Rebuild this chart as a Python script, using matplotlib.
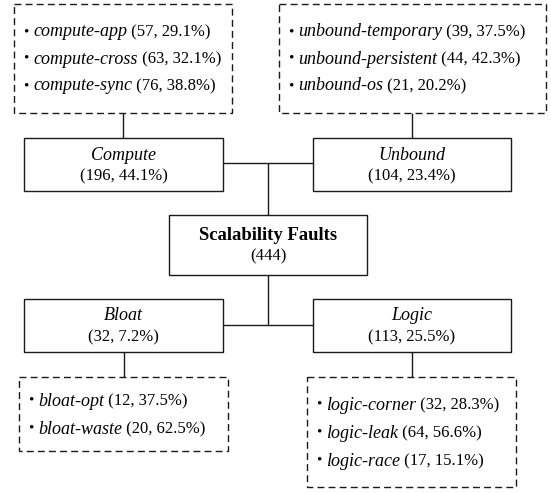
import matplotlib
matplotlib.use("Agg")
import matplotlib.pyplot as plt
from matplotlib.patches import Rectangle

# ---- data ----
root_label = "Scalability Faults"
root_total = 444
categories = ["Compute", "Unbound", "Bloat", "Logic"]
category_counts = [196, 104, 32, 113]
category_pcts = [44.1, 23.4, 7.2, 25.5]
sub_names = [
    ["compute-app", "compute-cross", "compute-sync"],
    ["unbound-temporary", "unbound-persistent", "unbound-os"],
    ["bloat-opt", "bloat-waste"],
    ["logic-corner", "logic-leak", "logic-race"],
]
sub_counts = [[57, 63, 76], [39, 44, 21], [12, 20], [32, 64, 17]]
sub_pcts = [[29.1, 32.1, 38.8], [37.5, 42.3, 20.2], [37.5, 62.5], [28.3, 56.6, 15.1]]

# ---- layout (pixels) ----
W, H = 551, 493
FONT = "Liberation Serif"
FS = 12.0      # regular text
FS_IT = 13.0   # italic text
FS_B = 13.4    # bold root label
LW = 1.0
COL = "#000000"
fig = plt.figure(figsize=(W / 100, H / 100), dpi=100)
ax = fig.add_axes([0, 0, 1, 1])
ax.set_xlim(0, W)
ax.set_ylim(H, 0)
ax.axis("off")
renderer = fig.canvas.get_renderer()

# category boxes: (x0, y0, x1, y1)
cat_boxes = [(24, 138, 223, 191), (313, 138, 511, 191),
             (24, 299, 223, 352), (313, 299, 511, 352)]
root_box = (169, 215, 367, 275)
sub_boxes = [(14, 4, 232, 113), (279, 4, 546, 113),
             (19, 377, 228, 451), (307, 377, 516, 487)]
sub_first = [32, 32, 401, 405]
sub_step = [27, 27, 28, 28]
stem_x = [123, 412, 124, 412]
cx = 268


def line(xs, ys):
    ax.plot(xs, ys, color="#1a1a1a", lw=LW, solid_capstyle="butt")


def box(b, dashed=False):
    x0, y0, x1, y1 = b
    r = Rectangle((x0, y0), x1 - x0, y1 - y0, fill=False, ec="#1a1a1a", lw=LW,
                  linestyle=(0, (5, 3)) if dashed else "-", joinstyle="miter")
    ax.add_patch(r)


def rich(x, y, pieces):
    for txt, style, weight, fs in pieces:
        t = ax.text(x, y, txt, ha="left", va="center", fontsize=fs, family=FONT,
                    style=style, weight=weight, color=COL)
        x += t.get_window_extent(renderer).width


# connectors
line([cx, cx], [163, root_box[1]])
line([cat_boxes[0][2], cat_boxes[1][0]], [163, 163])
line([cx, cx], [root_box[3], 325])
line([cat_boxes[2][2], cat_boxes[3][0]], [325, 325])
for i in range(4):
    cb, sb = cat_boxes[i], sub_boxes[i]
    if i < 2:
        line([stem_x[i], stem_x[i]], [sb[3], cb[1]])
    else:
        line([stem_x[i], stem_x[i]], [cb[3], sb[1]])

# root box
box(root_box)
rcx = (root_box[0] + root_box[2]) / 2
ax.text(rcx, 235, root_label, ha="center", va="center", fontsize=FS_B, family=FONT,
        weight="bold", color=COL)
ax.text(rcx, 256, f"({root_total})", ha="center", va="center", fontsize=FS,
        family=FONT, color=COL)

# category boxes
for i, b in enumerate(cat_boxes):
    box(b)
    bx = (b[0] + b[2]) / 2
    ax.text(bx, b[1] + 17, categories[i], ha="center", va="center", fontsize=FS_IT,
            family=FONT, style="italic", color=COL)
    ax.text(bx, b[1] + 38, f"({category_counts[i]}, {category_pcts[i]}%)",
            ha="center", va="center", fontsize=FS, family=FONT, color=COL)

# subcategory boxes
for i, b in enumerate(sub_boxes):
    box(b, dashed=True)
    for j, name in enumerate(sub_names[i]):
        y = sub_first[i] + j * sub_step[i]
        rich(b[0] + 10, y, [("\u2022 ", "normal", "normal", FS - 1),
                            (name, "italic", "normal", FS_IT),
                            (f" ({sub_counts[i][j]}, {sub_pcts[i][j]}%)", "normal", "normal", FS)])

fig.savefig("out.png", dpi=100)
